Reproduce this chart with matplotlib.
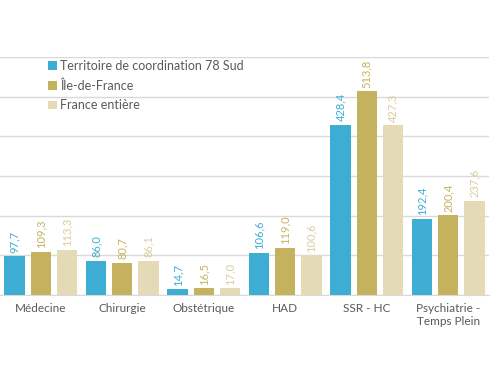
import matplotlib.pyplot as plt
import numpy as np

plt.rcParams['font.family'] = ['Lato', 'DejaVu Sans']

categories = ['Médecine', 'Chirurgie', 'Obstétrique', 'HAD', 'SSR - HC', 'Psychiatrie -\nTemps Plein']
series = ['Territoire de coordination 78 Sud', 'Île-de-France', 'France entière']
territoire = [97.7, 86.0, 14.7, 106.6, 428.4, 192.4]
idf = [109.3, 80.7, 16.5, 119.0, 513.8, 200.4]
france = [113.3, 86.1, 17.0, 100.6, 427.3, 237.6]
colors = ['#3DADD4', '#C5B25E', '#E4DAB6']
label_colors = ['#3DADD4', '#C5B25E', '#D9CC9E']

fig = plt.figure(figsize=(5, 3.75), dpi=100)
ax = fig.add_axes([0.0, 0.2133, 0.978, 0.635])

x = np.arange(len(categories))
w = 0.25
step = 0.32
for i, (vals, c, lc, name) in enumerate(zip([territoire, idf, france], colors, label_colors, series)):
    pos = x + (i - 1) * step
    ax.bar(pos, vals, width=w, color=c, label=name, zorder=3)
    for p, v in zip(pos, vals):
        ax.text(p, v + 9, f'{v:.1f}'.replace('.', ','), rotation=90,
                ha='center', va='bottom', color=lc, fontsize=8)

ax.set_xlim(-0.5, 5.5)
ax.set_ylim(0, 600)
ax.set_yticks(range(0, 601, 100))
ax.set_yticklabels([])
ax.tick_params(axis='y', length=0)
ax.tick_params(axis='x', length=0, pad=6, colors='#595959', labelsize=8.5)
ax.set_xticks(x)
ax.set_xticklabels(categories)
ax.grid(axis='y', color='#D9D9D9', linewidth=1, zorder=0)
for s in ['top', 'right', 'left']:
    ax.spines[s].set_visible(False)
ax.spines['bottom'].set_color('#D9D9D9')

leg = ax.legend(loc='upper left', bbox_to_anchor=(0.075, 1.035), frameon=False,
                fontsize=9, handlelength=0.7, handleheight=0.7, handletextpad=0.25,
                labelspacing=0.6, labelcolor='#595959')

fig.savefig('out.png', dpi=100)
